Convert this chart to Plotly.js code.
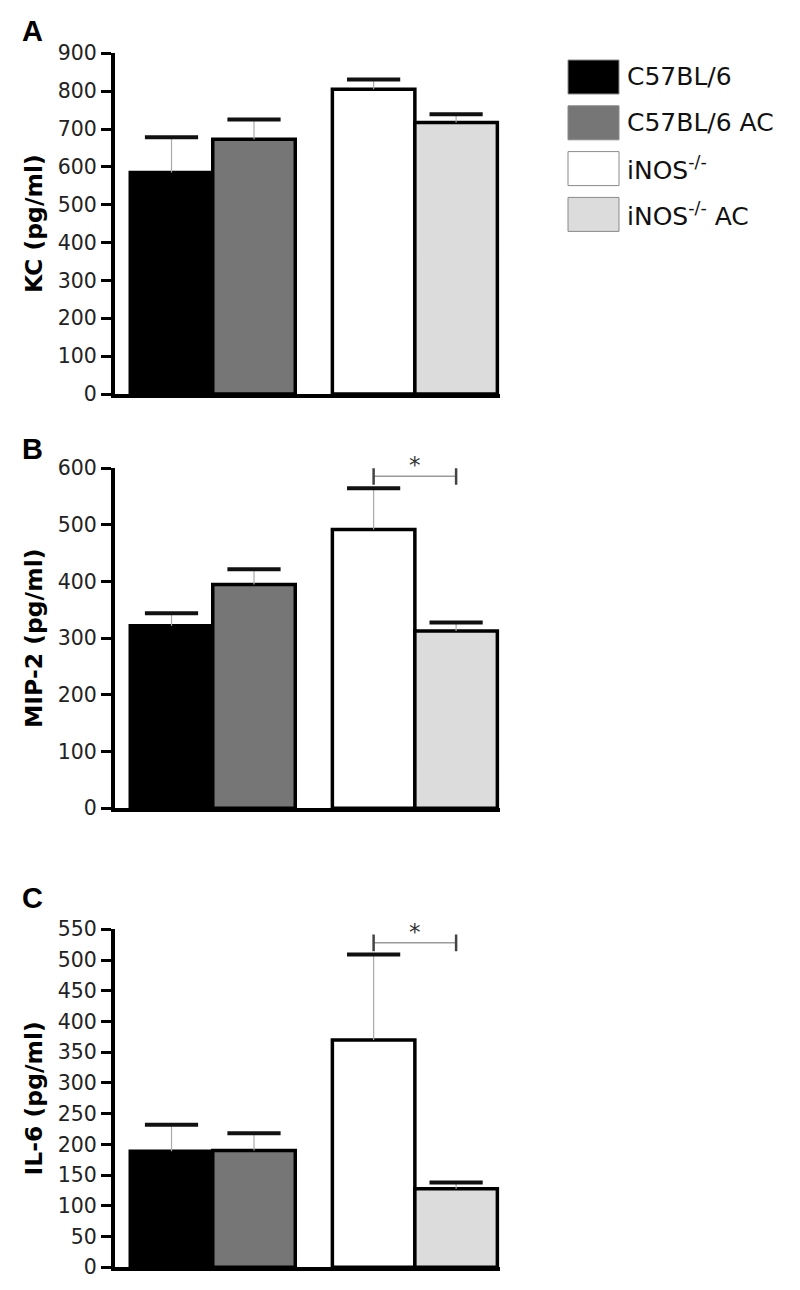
<!DOCTYPE html>
<html>
<head>
<meta charset="utf-8">
<script src="https://cdn.plot.ly/plotly-3.0.1.min.js"></script>
<style>
  html, body { margin: 0; padding: 0; background: #fff; }
  #chart { width: 800px; height: 1290px; }
</style>
</head>
<body>
<div id="chart"></div>
<script>
// ---------------- data ----------------
const categories = ["C57BL/6", "C57BL/6 AC", "iNOS<sup>-/-</sup>", "iNOS<sup>-/-</sup> AC"];
const groupOf = [0, 0, 1, 1];

const kcMean   = [585, 673, 805, 717];
const kcSem    = [93, 52, 26, 22];

const mip2Mean = [322, 395, 492, 313];
const mip2Sem  = [22, 27, 73, 15];

const il6Mean  = [189, 190, 370, 128];
const il6Sem   = [43, 28, 139, 10];

const kcTicks   = [0, 100, 200, 300, 400, 500, 600, 700, 800, 900];
const mip2Ticks = [0, 100, 200, 300, 400, 500, 600];
const il6Ticks  = [0, 50, 100, 150, 200, 250, 300, 350, 400, 450, 500, 550];

// significance: pair of compared bars and bracket level (data units)
const mip2SigPair = [2, 3];
const mip2SigLevel = 586;
const il6SigPair = [2, 3];
const il6SigLevel = 528;

// ---------------- styles ----------------
const barColors = ["#000000", "#767676", "#ffffff", "#dcdcdc"];
const W = 800, H = 1290;
const FONT = "DejaVu Sans, Liberation Sans, Arial, sans-serif";
const pos = categories.map((c, i) => i + groupOf[i] * 0.45);

const panels = [
  { mean: kcMean,   sem: kcSem,   ticks: kcTicks,   range: [0, 900], title: "KC (pg/ml)",    letter: "A", pix: [53.3, 394],   letterY: 31 },
  { mean: mip2Mean, sem: mip2Sem, ticks: mip2Ticks, range: [0, 600], title: "MIP-2 (pg/ml)", letter: "B", pix: [468.3, 808.3], letterY: 449, sig: mip2SigPair, sigLevel: mip2SigLevel },
  { mean: il6Mean,  sem: il6Sem,  ticks: il6Ticks,  range: [0, 550], title: "IL-6 (pg/ml)",  letter: "C", pix: [929.3, 1267.3], letterY: 898, sig: il6SigPair, sigLevel: il6SigLevel }
];

const traces = [];
const layout = {
  width: W, height: H,
  margin: { l: 0, r: 0, t: 0, b: 0 },
  paper_bgcolor: "#ffffff",
  plot_bgcolor: "rgba(0,0,0,0)",
  showlegend: false,
  bargap: 0,
  shapes: [],
  annotations: [],
  font: { family: FONT, color: "#000" }
};

panels.forEach((p, k) => {
  const sfx = k === 0 ? "" : String(k + 1);
  const xa = "x" + sfx, ya = "y" + sfx;

  traces.push({
    type: "bar",
    x: pos, y: p.mean,
    width: 1,
    xaxis: xa, yaxis: ya,
    marker: { color: barColors, line: { color: "#000", width: 3.5 } },
    error_y: {
      type: "data", symmetric: false,
      array: p.sem, arrayminus: p.sem.map(() => 0),
      color: "#aaaaaa", thickness: 1.2, width: 0
    },
    hoverinfo: "skip"
  });

  // error caps
  traces.push({
    type: "scatter", mode: "markers",
    x: pos, y: p.mean.map((m, i) => m + p.sem[i]),
    xaxis: xa, yaxis: ya,
    marker: { symbol: "line-ew", size: 38, color: "#111", line: { color: "#111", width: 4 } },
    hoverinfo: "skip"
  });

  if (p.sig) {
    const xs = p.sig.map(i => pos[i]);
    traces.push({
      type: "scatter", mode: "lines+markers",
      x: xs, y: [p.sigLevel, p.sigLevel],
      xaxis: xa, yaxis: ya,
      line: { color: "#9a9a9a", width: 1.6 },
      marker: { symbol: "line-ns", size: 12, color: "#444", line: { color: "#444", width: 2.5 } },
      hoverinfo: "skip"
    });
    layout.annotations.push({
      xref: xa, yref: ya,
      x: (xs[0] + xs[1]) / 2, y: p.sigLevel,
      text: "*", showarrow: false,
      yanchor: "bottom", yshift: -4,
      font: { family: FONT, size: 23, color: "#333" }
    });
  }

  layout["xaxis" + sfx] = {
    domain: [115 / W, 500 / W],
    range: [-0.685, 3.982],
    anchor: ya,
    showticklabels: false, ticks: "",
    showline: true, linewidth: 4, linecolor: "#000",
    showgrid: false, zeroline: false, fixedrange: true
  };
  layout["yaxis" + sfx] = {
    domain: [1 - p.pix[1] / H, 1 - p.pix[0] / H],
    range: p.range,
    anchor: xa,
    tickmode: "array", tickvals: p.ticks,
    ticks: "outside", ticklen: 10, tickwidth: 3, tickcolor: "#000",
    tickfont: { family: FONT, size: 20.5, color: "#222" },
    showline: true, linewidth: 4, linecolor: "#000",
    showgrid: false, zeroline: false, fixedrange: true,
    title: { text: "<b>" + p.title + "</b>", font: { family: FONT, size: 23.5, color: "#000" }, standoff: 10 }
  };

  layout.annotations.push({
    xref: "paper", yref: "paper",
    x: 32 / W, y: 1 - p.letterY / H,
    xanchor: "center", yanchor: "middle",
    text: "<b>" + p.letter + "</b>", showarrow: false,
    font: { family: "Liberation Sans, Arial, sans-serif", size: 29, color: "#000" }
  });
});

// legend built from categories / colours
categories.forEach((name, i) => {
  const cy = 77 + i * 45.8;
  layout.shapes.push({
    type: "rect", xref: "paper", yref: "paper",
    x0: 568 / W, x1: 619 / W,
    y0: 1 - (cy + 17) / H, y1: 1 - (cy - 17) / H,
    fillcolor: barColors[i],
    line: { color: "#8a8a8a", width: 1 }
  });
  layout.annotations.push({
    xref: "paper", yref: "paper",
    x: 625 / W, y: 1 - cy / H,
    xanchor: "left", yanchor: "middle",
    text: name, showarrow: false,
    font: { family: FONT, size: 25, color: "#111" }
  });
});

Plotly.newPlot("chart", traces, layout, { staticPlot: true, displayModeBar: false });
</script>
</body>
</html>
